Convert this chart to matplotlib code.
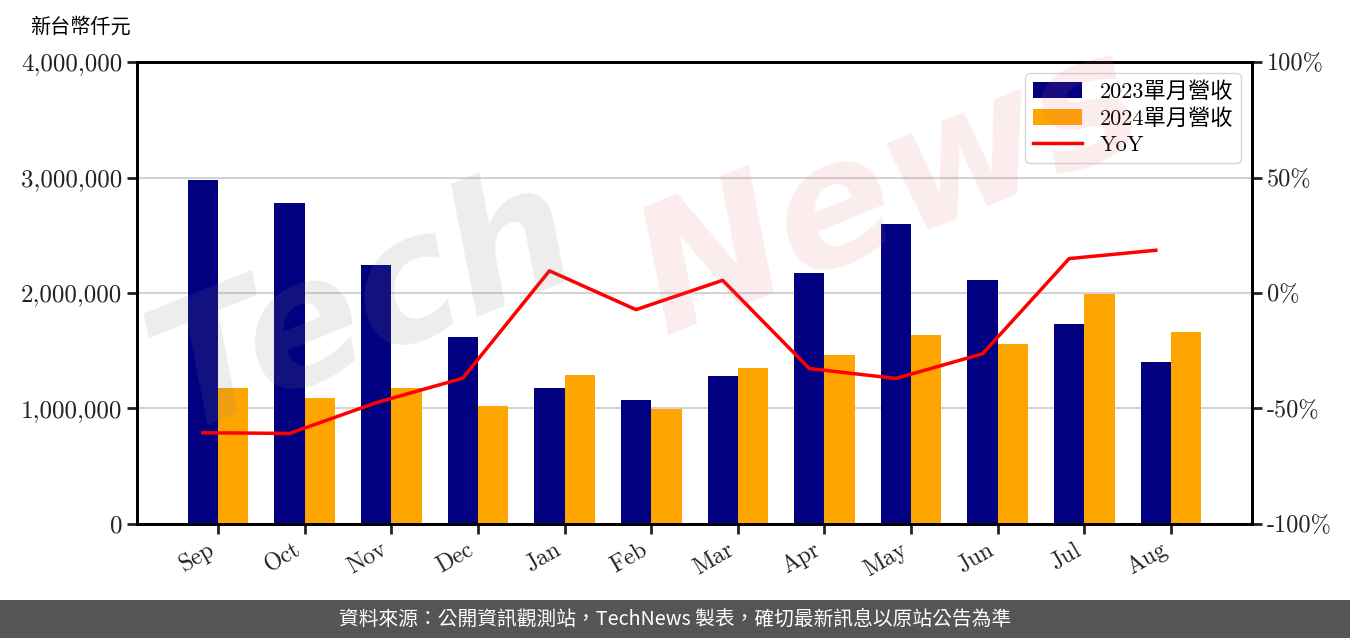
import numpy as np
import matplotlib
matplotlib.use('Agg')
import matplotlib.pyplot as plt
from matplotlib.patches import Rectangle

plt.rcParams['font.family'] = ['cmr10', 'Noto Sans CJK TC', 'DejaVu Sans']
plt.rcParams['axes.unicode_minus'] = False

# 資料 (仟元)
meses = ['Sep', 'Oct', 'Nov', 'Dec', 'Jan', 'Feb', 'Mar', 'Apr', 'May', 'Jun', 'Jul', 'Aug']
rev_2023 = [2978000, 2779000, 2242000, 1619000, 1177000, 1074000,
            1281000, 2173000, 2597000, 2113000, 1732000, 1403000]
rev_2024 = [1177000, 1091000, 1177000, 1022000, 1290000, 996000,
            1351000, 1463000, 1636000, 1558000, 1991000, 1662000]
yoy = [-60.5, -60.8, -47.5, -36.9, 9.6, -7.2, 5.5, -32.7, -37.0, -26.3, 14.9, 18.5]

left_ticks = [0, 1000000, 2000000, 3000000, 4000000]
left_labels = ['0', '1,000,000', '2,000,000', '3,000,000', '4,000,000']
right_ticks = [-100, -50, 0, 50, 100]
right_labels = ['-100%', '-50%', '0%', '50%', '100%']

fig = plt.figure(figsize=(13.5, 6.38), dpi=100)
ax = fig.add_axes([0.1015, 0.1787, 0.8259, 0.7241])

x = np.arange(len(meses))
w = 0.35
ax.bar(x - w / 2, rev_2023, w, color='navy', label='2023單月營收', zorder=2)
ax.bar(x + w / 2, rev_2024, w, color='orange', label='2024單月營收', zorder=2)
ax.set_ylim(0, 4000000)
ax.set_yticks(left_ticks)
ax.set_yticklabels(left_labels, fontsize=18)
ax.set_xticks(x)
ax.set_xticklabels(meses, rotation=30, ha='right', fontsize=17)
ax.grid(axis='y', color='#d3d3d3', linewidth=1.5, zorder=0)
ax.set_axisbelow(True)

ax2 = ax.twinx()
ax2.plot(x - w / 2, yoy, color='red', linewidth=2.5, label='YoY')
ax2.set_ylim(-100, 100)
ax2.set_yticks(right_ticks)
ax2.set_yticklabels(right_labels, fontsize=17.5)

for a in (ax, ax2):
    for s in a.spines.values():
        s.set_linewidth(2)
    a.tick_params(width=2, length=7, colors='#222222', labelcolor='#222222')
    for s in a.spines.values():
        s.set_color('black')

h1, l1 = ax.get_legend_handles_labels()
h2, l2 = ax2.get_legend_handles_labels()
ax2.legend(h1 + h2, l1 + l2, loc='upper right', fontsize=16,
           handlelength=2.2, borderpad=0.35, labelspacing=0.3)

fig.text(0.022, 0.958, '新台幣仟元', fontsize=14.5, family=['Noto Sans CJK TC'],
         ha='left', va='center')

# 浮水印
fig.text(0.27, 0.52, 'Tech', fontsize=125, color='gray', alpha=0.14,
         rotation=22, ha='center', va='center', style='italic', weight='bold',
         family=['DejaVu Sans'], zorder=10)
fig.text(0.66, 0.70, 'News', fontsize=125, color='#e06070', alpha=0.12,
         rotation=22, ha='center', va='center', style='italic', weight='bold',
         family=['DejaVu Sans'], zorder=10)

# 頁尾
fig.patches.append(Rectangle((0, 0), 1, 38 / 638, transform=fig.transFigure,
                             facecolor='#555555', edgecolor='none', zorder=0))
fig.text(0.5, 19 / 638, '資料來源：公開資訊觀測站，TechNews 製表，確切最新訊息以原站公告為準',
         color='white', fontsize=14.2, ha='center', va='center',
         family=['Noto Sans CJK TC'])

fig.savefig('out.png', dpi=100)
